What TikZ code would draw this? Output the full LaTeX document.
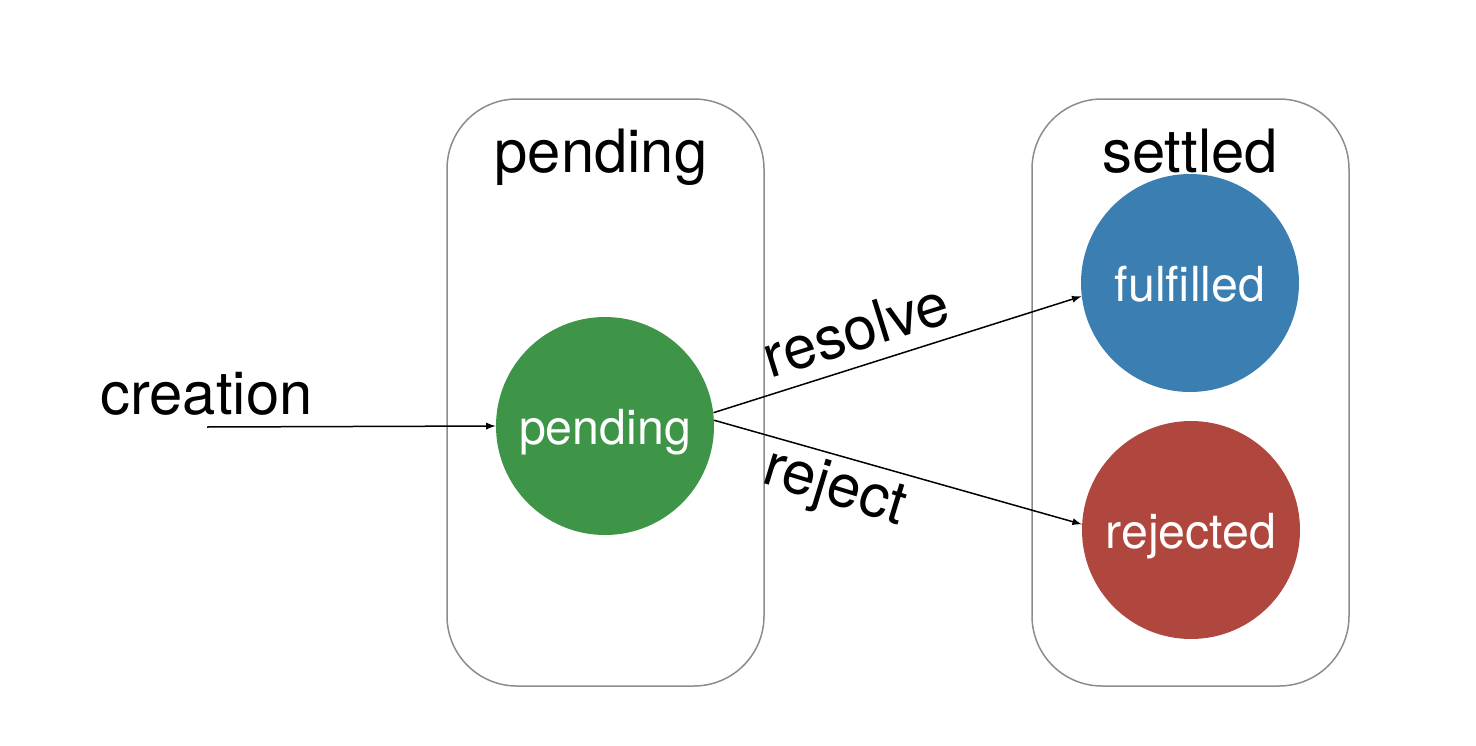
\documentclass[tikz,border=0pt]{standalone}
\usepackage{fontspec}
\setmainfont{TeX Gyre Heros}
\usepackage{tikz}

\definecolor{pendgreen}{HTML}{3E9548}
\definecolor{fulblue}{HTML}{3B7EB1}
\definecolor{rejred}{HTML}{AF473F}

\tikzset{
	statebox/.style = {rounded corners = 1.4cm, minimum width = 6.34cm,
		minimum height = 11.74cm, draw = black!45, line width = 0.3mm},
	state/.style = {circle, minimum size = 4.36cm, inner sep = 0pt,
		text = white, text height = 0.95cm, text depth = 0.2cm,
		font = \fontsize{27.5}{32}\selectfont},
	big/.style = {font = \fontsize{34}{40}\selectfont},
	trans/.style = {line width = 0.3mm, -latex}
}

\begin{document}
\begin{tikzpicture}
				\useasboundingbox (0,0) rectangle (29.52,-14.92);
				\node[statebox] (pendbox) at(12.11,-7.85){};
				\node[statebox] (setbox) at(23.81,-7.85){};
				\node[big, anchor = base] (pendtitle) at(12.02,-3.44){pending};
				\node[big, anchor = base] (settitle) at(23.8,-3.44){settled};
				\node[state, fill = pendgreen] (pend) at(12.10,-8.52){pending};
				\node[state, fill = fulblue] (ful) at(23.80,-5.66){fulfilled};
				\node[state, fill = rejred] (rej) at(23.82,-10.60){rejected};
				\node[big, anchor = base] (creation) at(4.13,-8.28){creation};
				\coordinate (start) at(4.14,-8.54);
				\draw[trans] (start) -- (pend.west);
				\draw[trans] (pend.7) -- (ful.187);
				\draw[trans] (pend.3) -- (rej.177);
				\node[big, anchor = base, rotate = 17.4] (resolve) at(17.24,-7.0){resolve};
				\node[big, anchor = base, rotate = -17] (reject) at(16.6,-10.08){reject};
			\end{tikzpicture}
\end{document}
